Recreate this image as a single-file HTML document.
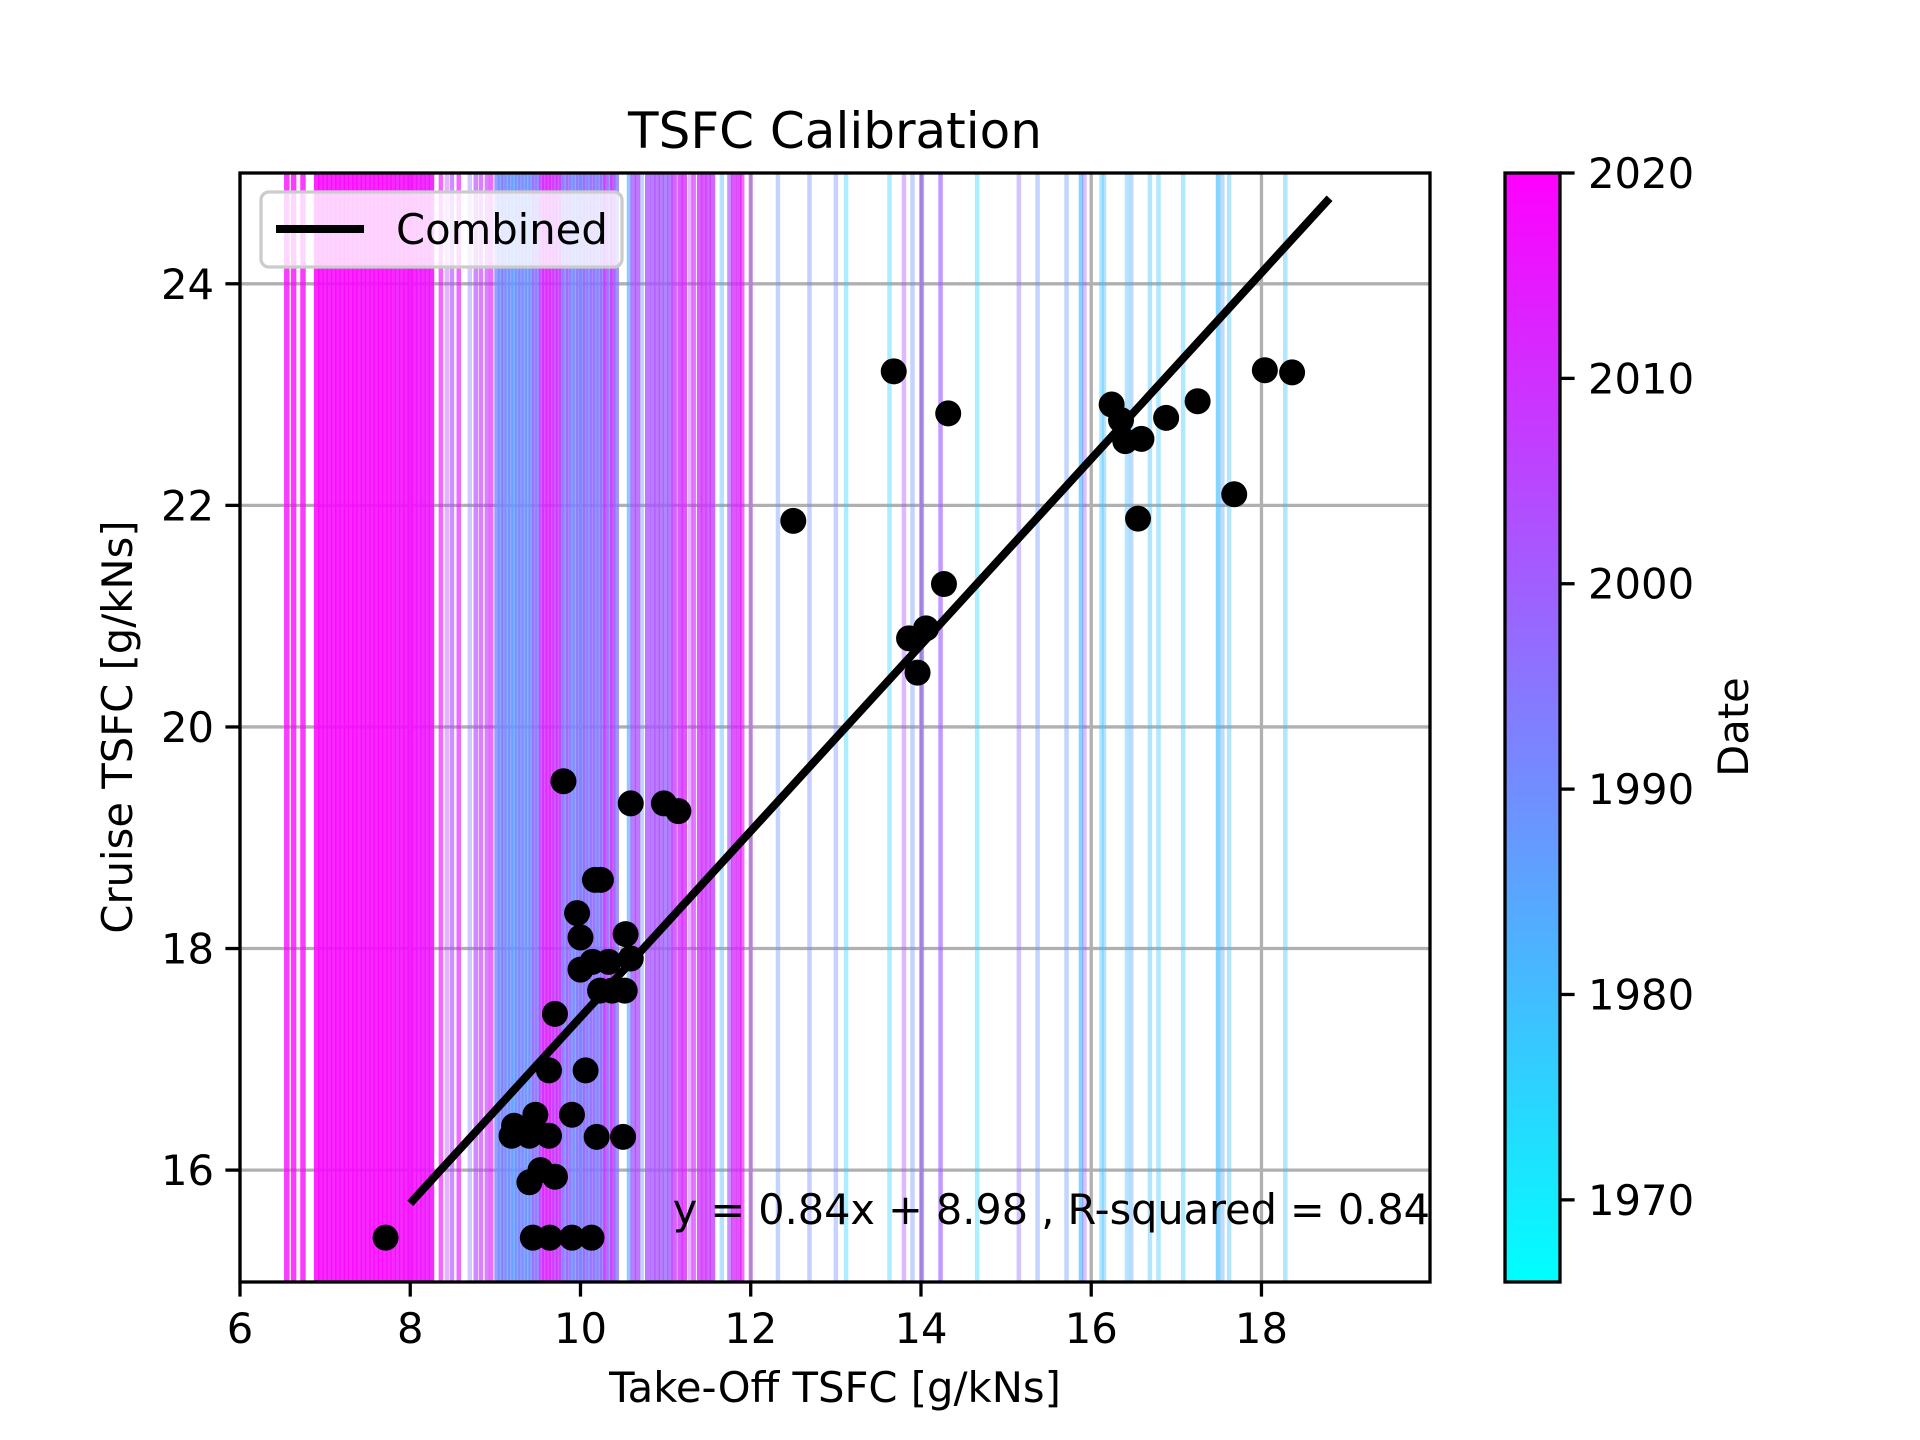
<!DOCTYPE html>
<html><head><meta charset="utf-8"><style>
html,body{margin:0;padding:0;background:#fff;}
svg{display:block;font-family:"DejaVu Sans","Liberation Sans",sans-serif;}
</style></head><body>
<svg id="chart" width="1920" height="1440" viewBox="0 0 1920 1440" xmlns="http://www.w3.org/2000/svg">
<defs>
<linearGradient id="cool" x1="0" y1="1" x2="0" y2="0">
<stop offset="0" stop-color="#00ffff"/><stop offset="1" stop-color="#ff00ff"/>
</linearGradient>
<clipPath id="plotclip"><rect x="240" y="173" width="1190" height="1109"/></clipPath>
</defs>
<rect width="1920" height="1440" fill="#fff"/>
<g id="grid"></g>
<g id="vlines" clip-path="url(#plotclip)"></g>
<g id="fit" clip-path="url(#plotclip)"></g>
<g id="points" clip-path="url(#plotclip)"></g>
<rect x="240" y="173" width="1190" height="1109" fill="none" stroke="#000" stroke-width="3.3"/>
<g id="xticks"></g>
<g id="yticks"></g>
<text x="835" y="148" font-size="50" text-anchor="middle">TSFC Calibration</text>
<text x="835" y="1402" font-size="41.7" text-anchor="middle">Take-Off TSFC [g/kNs]</text>
<text x="0" y="0" font-size="41.7" text-anchor="middle" transform="translate(132,727) rotate(-90)">Cruise TSFC [g/kNs]</text>
<text x="1430" y="1224" font-size="41.4" text-anchor="end">y = 0.84x + 8.98 , R-squared = 0.84</text>
<g>
<rect x="261" y="192" width="361" height="75" rx="8" fill="#fff" fill-opacity="0.8" stroke="#cccccc" stroke-width="3.3"/>
<line x1="276" y1="229" x2="364" y2="229" stroke="#000" stroke-width="8"/>
<text x="396" y="244" font-size="41.7">Combined</text>
</g>
<rect x="1505" y="173" width="55" height="1109" fill="url(#cool)" stroke="#000" stroke-width="3.3"/>
<g id="cticks"></g>
<text x="0" y="0" font-size="41.7" text-anchor="middle" transform="translate(1748,727) rotate(-90)">Date</text>
</svg>
<script>
const lineX = [6.55,6.63,6.74,6.9,6.95,7.0,7.05,7.1,7.15,7.2,7.25,7.3,7.35,7.4,7.45,7.5,7.55,7.6,7.65,7.7,7.75,7.8,7.85,7.9,7.95,8.0,8.05,8.1,8.15,8.2,8.25,
8.36,8.43,8.49,8.57,8.70,8.77,8.83,8.90,8.95,
9.02,9.06,9.1,9.14,9.18,9.22,9.26,9.3,9.34,9.38,9.42,9.46,9.5,9.54,9.58,9.62,9.66,9.7,9.74,9.78,9.82,9.86,9.9,9.94,9.98,10.02,10.06,10.1,10.14,10.18,10.22,10.26,10.3,10.34,10.38,10.42,
10.57,10.62,10.67,10.72,10.79,10.85,10.9,10.95,11.0,11.05,11.1,11.17,11.22,11.29,11.33,11.4,11.45,11.5,11.55,11.66,11.75,11.8,11.86,11.9,12.0,
12.32,12.69,13.0,13.12,13.63,13.80,13.90,14.01,14.23,14.66,15.15,15.37,15.71,15.88,15.92,16.12,16.15,16.42,16.47,16.69,16.79,17.08,17.49,17.54,17.62,18.28];
const lineYear = [2019,2019,2019,2018,2019,2018,2019,2018,2019,2018,2019,2018,2019,2018,2019,2018,2019,2018,2019,2018,2019,2018,2017,2018,2019,2017,2018,2016,2017,2016,2017,
2016,2005,2003,2016,1995,2005,2008,2008,2015,
1992,1990,1995,1988,1990,1986,1990,1992,1990,1988,1990,1998,1992,2008,2012,2013,2012,2008,2010,2005,1990,2000,1992,1990,1995,1992,2000,1992,1998,1995,1992,1998,2010,1990,2012,1995,
1985,2002,2003,1990,2002,2002,2002,2002,1998,2002,2008,2010,2012,2005,2012,2010,2010,2008,2008,1982,2002,2012,2012,2015,2005,
1988,1992,1990,1975,1975,2003,1990,1998,2000,1975,1998,1988,1988,1980,2000,1978,1980,1980,1985,1980,1978,1978,1980,1985,1980,1980];
const lineCount = [3,3,3,4,4,4,4,4,4,4,4,4,4,4,4,4,4,4,4,4,4,4,4,4,4,4,4,4,4,4,4,
2,1,2,2,1,2,2,2,2,
3,3,3,3,3,3,3,3,3,3,3,3,3,3,3,3,3,3,3,3,3,3,3,3,3,3,3,3,3,3,3,3,3,3,3,3,
2,3,3,1,3,3,3,3,3,3,3,3,3,1,2,3,3,3,3,1,2,3,3,2,1,
1,1,1,1,1,1,1,2,2,1,1,1,1,2,1,1,1,1,1,1,1,1,2,1,1,1];
const ptX = [7.71,13.68,14.32,12.50,14.27,13.86,14.06,13.96,16.24,16.35,16.40,16.59,16.88,17.25,18.04,18.36,17.68,16.55,
9.80,10.59,10.98,11.15,10.17,10.24,9.96,10.00,10.53,10.00,10.14,10.33,10.59,10.23,10.37,10.52,9.70,9.63,10.06,9.90,9.47,9.22,9.19,9.40,9.63,10.19,10.50,9.53,9.70,9.40,9.44,9.64,9.90,10.13];
const ptY = [15.39,23.21,22.83,21.86,21.29,20.80,20.89,20.49,22.91,22.77,22.58,22.60,22.79,22.94,23.22,23.20,22.10,21.88,
19.51,19.31,19.31,19.24,18.62,18.62,18.32,18.10,18.13,17.81,17.88,17.88,17.91,17.62,17.62,17.62,17.41,16.90,16.90,16.50,16.50,16.40,16.31,16.31,16.31,16.30,16.30,16.00,15.94,15.89,15.39,15.39,15.39,15.39];
const fitSlope = 0.84, fitIntercept = 8.98, fitStart = 8.0, fitEnd = 18.8;
const xTicks = [6,8,10,12,14,16,18];
const yTicks = [16,18,20,22,24];
const cTicks = [1970,1980,1990,2000,2010,2020];

const NS = "http://www.w3.org/2000/svg";
const X0=240,X1=1430,Y0=1282,Y1=173;
const xmin=6,xmax=19.98,ymin=14.99,ymax=25.0,cmin=1966,cmax=2020;
const sx=v=>X0+(v-xmin)/(xmax-xmin)*(X1-X0);
const sy=v=>Y0-(v-ymin)/(ymax-ymin)*(Y0-Y1);
const sc=v=>Y0-(v-cmin)/(cmax-cmin)*(Y0-Y1);
function cool(y){const t=Math.max(0,Math.min(1,(y-cmin)/(cmax-cmin)));return `rgb(${Math.round(255*t)},${Math.round(255*(1-t))},255)`;}
function mk(tag,attrs,parent){const e=document.createElementNS(NS,tag);for(const k in attrs)e.setAttribute(k,attrs[k]);parent.appendChild(e);return e;}

const gv=document.getElementById('vlines');
lineX.forEach((x,i)=>{
  const n=lineCount[i]||1;
  const op=1-Math.pow(1-0.4,n);
  const l=mk('line',{x1:sx(x),x2:sx(x),y1:Y1,y2:Y0,stroke:cool(lineYear[i]),'stroke-width':n>2?5.5:4.5,'stroke-opacity':op},gv);
  
  
});
const gg=document.getElementById('grid');
xTicks.forEach(t=>{const l=mk('line',{x1:sx(t),x2:sx(t),y1:Y1,y2:Y0,stroke:'#b0b0b0','stroke-width':3.3},gg);
  
  });
yTicks.forEach(t=>{const l=mk('line',{x1:X0,x2:X1,y1:sy(t),y2:sy(t),stroke:'#b0b0b0','stroke-width':3.3},gg);
  
  });
const gf=document.getElementById('fit');
const fl=mk('line',{x1:sx(fitStart),y1:sy(fitSlope*fitStart+fitIntercept),x2:sx(fitEnd),y2:sy(fitSlope*fitEnd+fitIntercept),stroke:'#000','stroke-width':8},gf);


const gp=document.getElementById('points');
ptX.forEach((x,i)=>{const c=mk('ellipse',{cx:sx(x),cy:sy(ptY[i]),rx:13,ry:13,fill:'#000'},gp);
  
  });
const gx=document.getElementById('xticks');
xTicks.forEach(t=>{const l=mk('line',{x1:sx(t),x2:sx(t),y1:Y0,y2:Y0+14.6,stroke:'#000','stroke-width':3.3},gx);
  
  
  const tx=mk('text',{x:sx(t),y:Y0+61,'font-size':41.7,'text-anchor':'middle'},gx);tx.textContent=t;
  
  });
const gy=document.getElementById('yticks');
yTicks.forEach(t=>{const l=mk('line',{x1:X0-14.6,x2:X0,y1:sy(t),y2:sy(t),stroke:'#000','stroke-width':3.3},gy);
  
  
  const tx=mk('text',{x:X0-26,y:sy(t)+15,'font-size':41.7,'text-anchor':'end'},gy);tx.textContent=t;
  
  });
const gc=document.getElementById('cticks');
cTicks.forEach(t=>{const l=mk('line',{x1:1560,x2:1574.6,y1:sc(t),y2:sc(t),stroke:'#000','stroke-width':3.3},gc);
  
  
  const tx=mk('text',{x:1588,y:sc(t)+15,'font-size':41.7},gc);tx.textContent=t;
  
  });
</script>
</body></html>
